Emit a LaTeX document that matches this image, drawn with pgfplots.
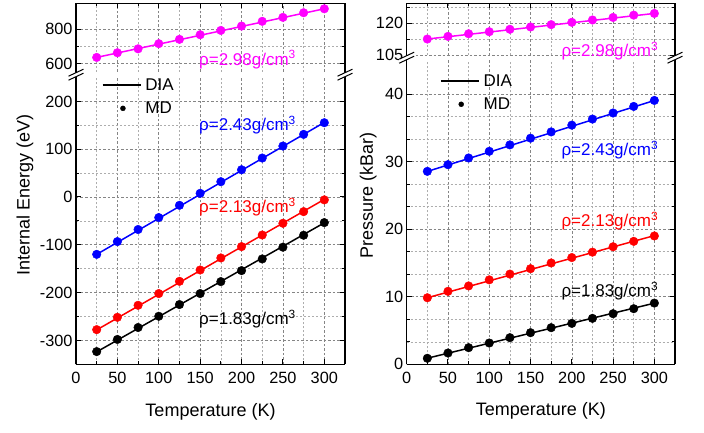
\documentclass[border=0pt]{standalone}
\usepackage{fontspec}
\setmainfont{Liberation Sans}
\usepackage{pgfplots}
\pgfplotsset{compat=1.18}

\definecolor{cmag}{RGB}{255,0,255}
\definecolor{cblue}{RGB}{0,0,255}
\definecolor{cred}{RGB}{255,0,0}

\tikzset{rho/.style={anchor=base west, inner sep=0pt, font=\fontsize{17}{18}\selectfont}}

\pgfplotsset{
  panel/.style={
    scale only axis,
    xmin=0, xmax=325,
    xtick={0,50,...,300},
    minor x tick num=1,
    grid=both,
    major grid style={black!48, dash pattern=on 2.5pt off 2pt, line width=0.6pt},
    minor grid style={black!32, dash pattern=on 2pt off 2pt, line width=0.5pt},
    tick align=inside,
    major tick length=5pt, minor tick length=3pt,
    every tick/.style={black, line width=1pt},
    tick label style={font=\fontsize{16.3}{17}\selectfont},
    xticklabel style={yshift=-4.5pt},
    /pgf/number format/assume math mode=true,
    label style={font=\fontsize{18}{20}\selectfont},
    clip=false,
  },
  lowerpanel/.style={panel,
    axis x line*=bottom, axis y line*=box, xtick pos=left,
    axis line style={line width=1.3pt, -},
    xlabel={Temperature (K)},
  },
  upperpanel/.style={panel,
    axis x line*=top, axis y line*=box, xtick pos=right,
    axis line style={line width=1.3pt, -},
    xticklabels={},
  },
  md/.style={only marks, mark=*, mark size=4.3pt},
  dia/.style={line width=1.5pt, mark=none},
  dialeg/.style={legend image code/.code={\draw[##1] (0pt,0pt) -- (38pt,0pt);}},
  mdleg/.style={legend image code/.code={\draw[##1] plot coordinates {(20.3pt,0pt)};}},
  mylegend/.style={
    legend cell align=left,
    legend style={draw=none, fill=none, inner sep=0pt,
      font=\fontsize{17}{18}\selectfont,
      nodes={inner sep=0pt},
      /tikz/column sep=4pt, /tikz/row sep=10pt},
  },
}

\newcommand{\breakmark}[2]{%
  \begin{scope}[shift={(#1,#2)}]
    \fill[white] (-7.5pt,-5.5pt) -- (7.5pt,1.5pt) -- (7.5pt,5.5pt) -- (-7.5pt,-1.5pt) -- cycle;
    \draw[line width=1pt] (-7.5pt,-5.5pt) -- (7.5pt,1.5pt);
    \draw[line width=1pt] (-7.5pt,-1.5pt) -- (7.5pt,5.5pt);
  \end{scope}}

\begin{document}
\begin{tikzpicture}
\path[use as bounding box] (0pt,0pt) rectangle (704pt,433pt);

% ---------- left panel, lower part
\begin{axis}[lowerpanel, mylegend,
  at={(76pt,68.7pt)}, anchor=south west,
  width=269pt, height=286.8pt,
  ymin=-350, ymax=250,
  ytick={-300,-200,...,200}, minor y tick num=1,
  ylabel={Internal Energy (eV)},
  ylabel style={at={(axis description cs:-0.19,0.589)}, anchor=center},
  xlabel style={at={(axis description cs:0.5,-0.165)}, anchor=center},
  legend style={at={(axis description cs:0.0955,0.997)}, anchor=north west},
]
\addlegendimage{dialeg, black, line width=1.5pt}
\addlegendentry{DIA}
\addlegendimage{mdleg, black, only marks, mark=*, mark size=2.5pt}
\addlegendentry{MD}

% rho = 2.43
\addplot[dia, cblue, forget plot] coordinates {(25,-120) (300,156)};
\addplot[md, cblue, forget plot] coordinates {
  (25,-120) (50,-93.3) (75,-68) (100,-43) (125,-17.4) (150,7.7)
  (175,32) (200,57) (225,81.5) (250,106.6) (275,131) (300,155.4)};
% rho = 2.13
\addplot[dia, cred, forget plot] coordinates {(25,-278) (300,-5)};
\addplot[md, cred, forget plot] coordinates {
  (25,-277.5) (50,-251.7) (75,-226.6) (100,-202) (125,-176.4) (150,-152.7)
  (175,-127.5) (200,-103.8) (225,-79.5) (250,-55) (275,-30.6) (300,-6)};
% rho = 1.83
\addplot[dia, black, forget plot] coordinates {(25,-324) (300,-54)};
\addplot[md, black, forget plot] coordinates {
  (25,-323.4) (50,-298) (75,-273) (100,-249.5) (125,-225) (150,-202)
  (175,-177) (200,-154) (225,-129.6) (250,-105) (275,-80) (300,-53.6)};

\node[rho, text=cblue] at (axis cs:148.6,139.5) {ρ=2.43g/cm\textsuperscript{3}};
\node[rho, text=cred] at (axis cs:148.6,-32.6) {ρ=2.13g/cm\textsuperscript{3}};
\node[rho, text=black] at (axis cs:148.6,-266.3) {ρ=1.83g/cm\textsuperscript{3}};
\end{axis}

% ---------- left panel, upper part
\begin{axis}[upperpanel,
  at={(76pt,361pt)}, anchor=south west,
  width=269pt, height=68.7pt,
  ymin=550, ymax=950,
  ytick={600,800}, minor y tick num=1,
]
\addplot[dia, cmag] coordinates {(25,635) (300,918)};
\addplot[md, cmag] coordinates {
  (25,635) (50,662) (75,685) (100,715) (125,740) (150,767)
  (175,792) (200,817.5) (225,845) (250,868) (275,895) (300,918)};
\node[rho, text=cmag] at (axis cs:148.6,590.3) {ρ=2.98g/cm\textsuperscript{3}};
\end{axis}

% ---------- right panel, lower part
\begin{axis}[lowerpanel, mylegend,
  at={(406.7pt,68.7pt)}, anchor=south west,
  width=268.3pt, height=304pt,
  ymin=0, ymax=45,
  ytick={0,10,...,40}, minor y tick num=2,
  ylabel={Pressure (kBar)},
  ylabel style={at={(axis description cs:-0.143,0.554)}, anchor=center},
  xlabel style={at={(axis description cs:0.5,-0.153)}, anchor=center},
  legend style={at={(axis description cs:0.124,0.954)}, anchor=north west},
]
\addlegendimage{dialeg, black, line width=1.5pt}
\addlegendentry{DIA}
\addlegendimage{mdleg, black, only marks, mark=*, mark size=2.5pt}
\addlegendentry{MD}

% rho = 2.43
\addplot[dia, cblue, forget plot] coordinates {(25,28.55) (300,39.05)};
\addplot[md, cblue, forget plot] coordinates {
  (25,28.56) (50,29.55) (75,30.54) (100,31.53) (125,32.48) (150,33.47)
  (175,34.4) (200,35.4) (225,36.3) (250,37.2) (275,38.17) (300,39.06)};
% rho = 2.13
\addplot[dia, cred, forget plot] coordinates {(25,9.85) (300,19.05)};
\addplot[md, cred, forget plot] coordinates {
  (25,9.85) (50,10.8) (75,11.6) (100,12.5) (125,13.35) (150,14.15)
  (175,15.0) (200,15.8) (225,16.6) (250,17.4) (275,18.2) (300,19.0)};
% rho = 1.83
\addplot[dia, black, forget plot] coordinates {(25,0.9) (300,9.05)};
\addplot[md, black, forget plot] coordinates {
  (25,0.89) (50,1.67) (75,2.46) (100,3.15) (125,3.94) (150,4.68)
  (175,5.42) (200,6.06) (225,6.8) (250,7.49) (275,8.23) (300,9.06)};

\node[rho, text=cblue] at (axis cs:187.3,30.9) {ρ=2.43g/cm\textsuperscript{3}};
\node[rho, text=cred] at (axis cs:187.3,20.34) {ρ=2.13g/cm\textsuperscript{3}};
\node[rho, text=black] at (axis cs:187.3,10.0) {ρ=1.83g/cm\textsuperscript{3}};
\end{axis}

% ---------- right panel, upper part
\begin{axis}[upperpanel,
  at={(406.7pt,377.9pt)}, anchor=south west,
  width=268.3pt, height=51.8pt,
  ymin=105, ymax=129.5,
  ytick={105,120}, minor ytick={112.5,127.5},
]
\addplot[dia, cmag] coordinates {(25,112.6) (300,124.7)};
\addplot[md, cmag] coordinates {
  (25,112.6) (50,113.85) (75,115.1) (100,116.05) (125,117.2) (150,118.3)
  (175,119.4) (200,120.5) (225,121.6) (250,122.8) (275,123.9) (300,124.7)};
\node[rho, text=cmag] at (axis cs:187.3,104.2) {ρ=2.98g/cm\textsuperscript{3}};
\end{axis}

% frame pieces across the breaks and break marks
\draw[line width=1.3pt] (76pt,355.5pt) -- (76pt,361pt);
\draw[line width=1.3pt] (345pt,355.5pt) -- (345pt,361pt);
\draw[line width=1.3pt] (406.7pt,372.7pt) -- (406.7pt,377.9pt);
\draw[line width=1.3pt] (675pt,372.7pt) -- (675pt,377.9pt);
\breakmark{76pt}{358.3pt}
\breakmark{345pt}{358.3pt}
\breakmark{406.7pt}{375.3pt}
\breakmark{675pt}{375.3pt}
\end{tikzpicture}
\end{document}
